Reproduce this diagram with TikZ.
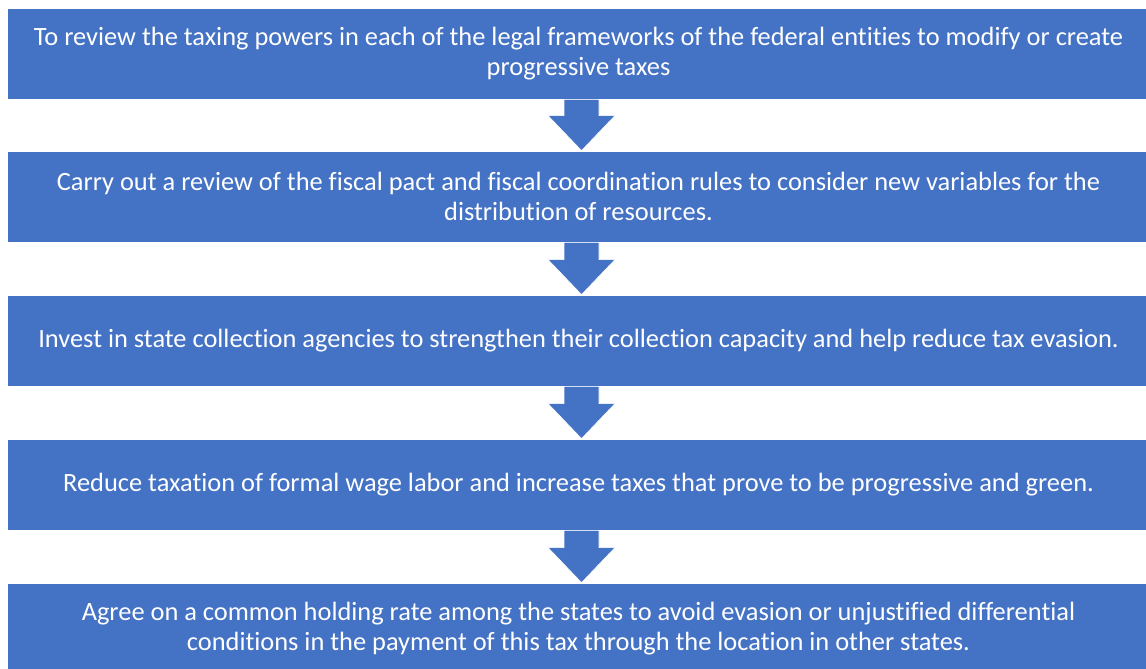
\documentclass[tikz,border=0pt]{standalone}
\usepackage{fontspec}
\setmainfont{Carlito}[Ligatures=NoCommon]
\usetikzlibrary{calc}
\definecolor{officeblue}{HTML}{4472C4}
\tikzset{
  stepbox/.style={fill=officeblue, draw=white, line width=0.8pt, text=white,
    minimum width=1143pt, minimum height=91pt, inner sep=0pt, align=center,
    font=\fontsize{26.4pt}{29.5pt}\selectfont, anchor=center},
  flowfill/.style={fill=officeblue, draw=white, line width=0.6pt}
}
\newcommand\flowarrow[2]{%
  \filldraw[flowfill] let \p1=(#1.south), \p2=(#2.north) in
    (\x1+3pt-17.5pt,\y1) -- (\x1+3pt+17.5pt,\y1) -- (\x1+3pt+17.5pt,\y2+35pt)
    -- (\x1+3pt+33.5pt,\y2+35pt) -- (\x1+3pt,\y2) -- (\x1+3pt-33.5pt,\y2+35pt)
    -- (\x1+3pt-17.5pt,\y2+35pt) -- cycle;}
\begin{document}
\begin{tikzpicture}[x=1pt,y=-1pt]
\useasboundingbox[fill=white] (0,0) rectangle (1146,669);
\node[stepbox] (b1) at (578.5,53.5) {To review the taxing powers in each of the legal frameworks of the federal entities to modify or create\\progressive taxes};
\node[stepbox] (b2) at (578.5,196.5) {Carry out a review of the fiscal pact and fiscal coordination rules to consider new variables for the\\distribution of resources.};
\node[stepbox] (b3) at (578.5,340.5) {Invest in state collection agencies to strengthen their collection capacity and help reduce tax evasion.};
\node[stepbox] (b4) at (578.5,484.5) {Reduce taxation of formal wage labor and increase taxes that prove to be progressive and green.};
\node[stepbox] (b5) at (578.5,628.5) {Agree on a common holding rate among the states to avoid evasion or unjustified differential\\conditions in the payment of this tax through the location in other states.};
\flowarrow{b1}{b2}
\flowarrow{b2}{b3}
\flowarrow{b3}{b4}
\flowarrow{b4}{b5}
\end{tikzpicture}
\end{document}
